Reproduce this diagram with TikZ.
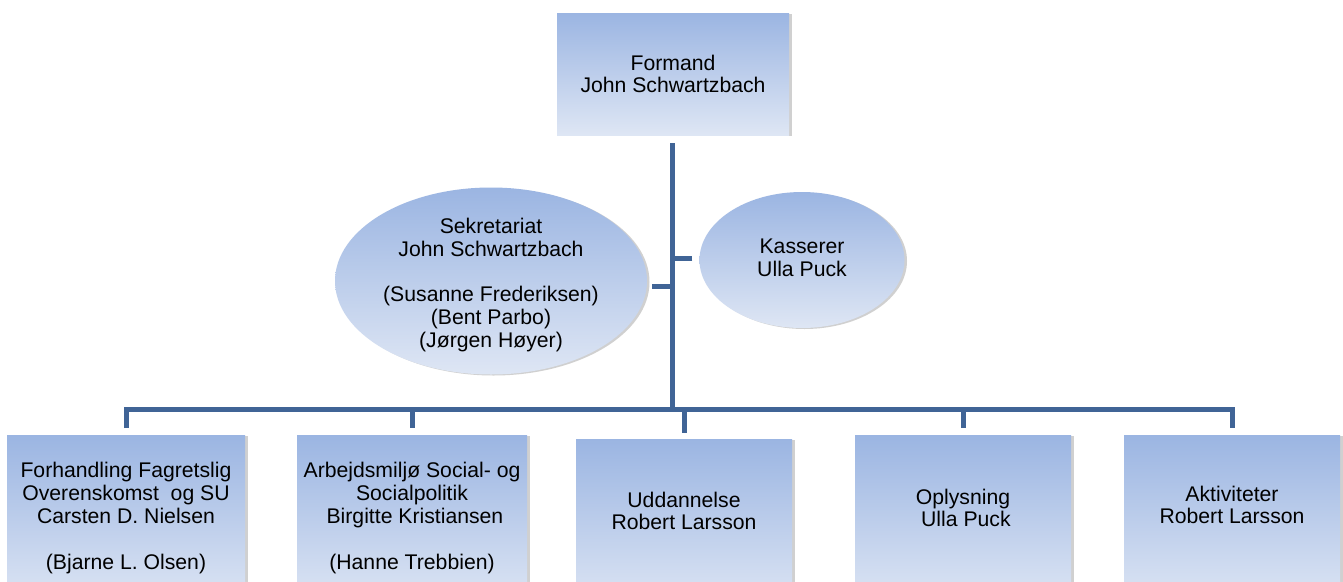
\documentclass[tikz,border=0pt]{standalone}
\usepackage{fontspec}
\setmainfont{Liberation Sans}
\usetikzlibrary{shapes.geometric,calc,shadows}
\definecolor{boxtop}{RGB}{155,181,226}
\definecolor{boxbot}{RGB}{222,230,244}
\definecolor{conncol}{RGB}{64,100,150}
\begin{document}
\begin{tikzpicture}[x=1pt,y=-1pt,
  orgfill/.style={top color=boxtop,bottom color=boxbot,draw=none,
    drop shadow={shadow xshift=2.5pt,shadow yshift=-1pt,opacity=.3,fill=black!60}},
  orgbox/.style={orgfill,rectangle,minimum height=170pt,inner sep=0pt},
  orgell/.style={orgfill,ellipse,inner sep=0pt},
  orgtext/.style={align=center,font=\fontsize{21.2}{22.8}\selectfont,inner sep=0pt},
  conn/.style={draw=conncol,line width=5pt}]
\useasboundingbox (0,0) rectangle (1343,581);
\clip (0,0) rectangle (1343,581);
\fill[white] (0,0) rectangle (1343,581);
% top
\node[orgfill,rectangle,minimum width=232pt,minimum height=122pt,align=center,
  font=\fontsize{21.2}{22.8}\selectfont] (top) at (673,74) {Formand\\John Schwartzbach};
% ellipses
\node[orgell,minimum width=312pt,minimum height=187pt] (sek) at (491,281) {};
\node[orgtext] (sekt) at ($(sek.center)+(0,4)$)
  {Sekretariat\\John Schwartzbach\\[22.8pt](Susanne Frederiksen)\\(Bent Parbo)\\(Jørgen Høyer)};
\node[orgell,minimum width=205pt,minimum height=136pt] (kas) at (802,260) {};
\node[orgtext] (kast) at ($(kas.center)+(0,-2)$) {Kasserer\\Ulla Puck};
% bottom boxes
\node[orgbox,minimum width=238pt,anchor=north] (b1) at (126,435) {};
\node[orgbox,minimum width=230pt,anchor=north] (b2) at (412,435) {};
\node[orgbox,minimum width=216pt,anchor=north] (b3) at (684,439) {};
\node[orgbox,minimum width=216pt,anchor=north] (b4) at (963,435) {};
\node[orgbox,minimum width=216pt,anchor=north] (b5) at (1232,435) {};
\node[orgtext] (t1) at (126,518) {Forhandling Fagretslig\\Overenskomst\ \ og SU\\Carsten D. Nielsen\\[22.8pt](Bjarne L. Olsen)};
\node[orgtext] (t2) at (412,518) {Arbejdsmiljø Social- og\\Socialpolitik\\\ Birgitte Kristiansen\\[22.8pt](Hanne Trebbien)};
\node[orgtext] (t3) at (684,511) {Uddannelse\\Robert Larsson};
\node[orgtext] (t4) at (963,508) {Oplysning\\\ Ulla Puck};
\node[orgtext] (t5) at (1232,505) {Aktiviteter\\Robert Larsson};
% connectors
\coordinate (bus) at (672,409);
\draw[conn] ($(top.south)+(-1,8)$) -- ($(top.south |- bus)+(-1,0)$);
\draw[conn] ($(b1.north)+(0,-7)$) |- (bus) -| ($(b5.north)+(0,-7)$);
\draw[conn] (b2.north |- bus) -- ($(b2.north)+(0,-7)$);
\draw[conn] (b3.north |- bus) -- ($(b3.north)+(0,-6)$);
\draw[conn] (b4.north |- bus) -- ($(b4.north)+(0,-7)$);
\draw[conn] ($(sek.east)+(5,5)$) -- ($(sek.east -| bus)+(0,5)$);
\draw[conn] ($(kas.west)+(-7,-2)$) -- ($(kas.west -| bus)+(0,-2)$);
\end{tikzpicture}
\end{document}
